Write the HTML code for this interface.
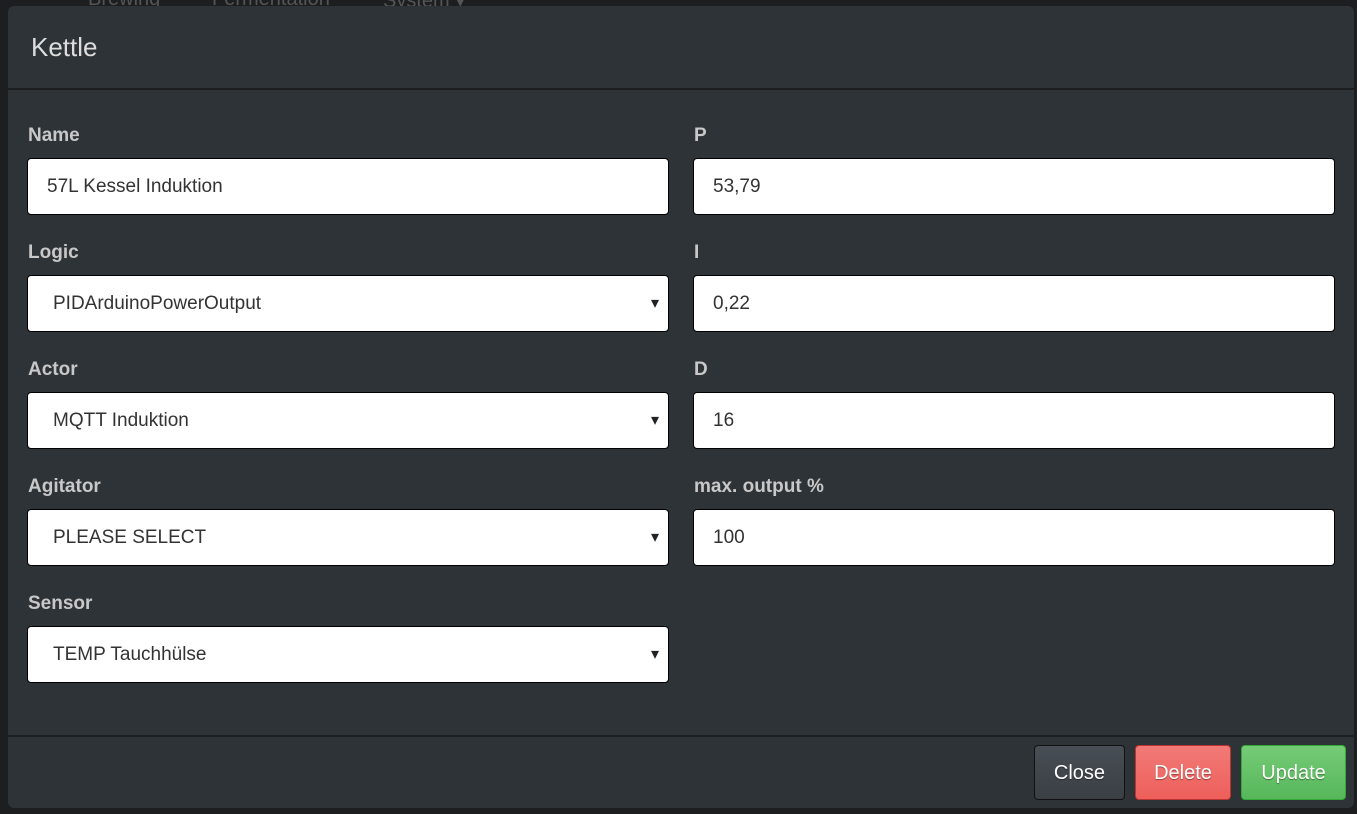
<!DOCTYPE html><html><head><style>
body{margin:0;width:1357px;height:814px;background:#1c1e20;font-family:"Liberation Sans",sans-serif;position:relative;overflow:hidden}
.nav{position:absolute;top:-12px;color:#555;font-size:20px}
.m{position:absolute;left:8px;top:6px;width:1346px;height:802px;background:#2e3338;border-radius:6px}
.a{position:absolute}
.l{position:absolute;color:#c8c8c8;font-weight:bold;font-size:19px}
.i{position:absolute;background:#fff;border:1px solid #000;border-radius:4px;width:642px;box-sizing:border-box;height:57px;padding-left:19px;line-height:56px;font-size:19px;color:#333}
.s{padding-left:25px}
.s:after{content:"▾";position:absolute;right:9px;top:0;font-size:16px;color:#222}
.b{position:absolute;top:745px;height:55px;border-radius:4px;color:#fff;font-size:20px;line-height:55px;text-align:center;box-sizing:border-box;text-shadow:0 1px 1px rgba(0,0,0,.4)}
</style></head><body>
<div class="nav" style="left:88px">Brewing</div><div class="nav" style="left:212px">Fermentation</div><div class="nav" style="left:383px">System ▾</div>
<div class="m"></div>
<div class="a" style="left:31px;top:32px;font-size:26px;color:#ddd">Kettle</div>
<div class="a" style="left:8px;top:88px;width:1346px;height:2px;background:#1c1e20"></div>
<div class="a" style="left:8px;top:735px;width:1346px;height:2px;background:#1c1e20"></div>
<div class="l" style="left:28px;top:125px">Name</div><div class="i" style="left:27px;top:158px">57L Kessel Induktion</div>
<div class="l" style="left:28px;top:242px">Logic</div><div class="i s" style="left:27px;top:275px">PIDArduinoPowerOutput</div>
<div class="l" style="left:28px;top:359px">Actor</div><div class="i s" style="left:27px;top:392px">MQTT Induktion</div>
<div class="l" style="left:28px;top:476px">Agitator</div><div class="i s" style="left:27px;top:509px">PLEASE SELECT</div>
<div class="l" style="left:28px;top:593px">Sensor</div><div class="i s" style="left:27px;top:626px">TEMP Tauchhülse</div>
<div class="l" style="left:694px;top:125px">P</div><div class="i" style="left:693px;top:158px">53,79</div>
<div class="l" style="left:694px;top:242px">I</div><div class="i" style="left:693px;top:275px">0,22</div>
<div class="l" style="left:694px;top:359px">D</div><div class="i" style="left:693px;top:392px">16</div>
<div class="l" style="left:694px;top:476px">max. output %</div><div class="i" style="left:693px;top:509px">100</div>
<div class="b" style="left:1034px;width:91px;background:linear-gradient(#484e55,#3a3f44);border:1px solid #111">Close</div>
<div class="b" style="left:1135px;width:96px;background:linear-gradient(#f17a77,#ee5f5b);border:1px solid #b33">Delete</div>
<div class="b" style="left:1241px;width:105px;background:linear-gradient(#75cc77,#57b65a);border:1px solid #3a3">Update</div>
</body></html>
